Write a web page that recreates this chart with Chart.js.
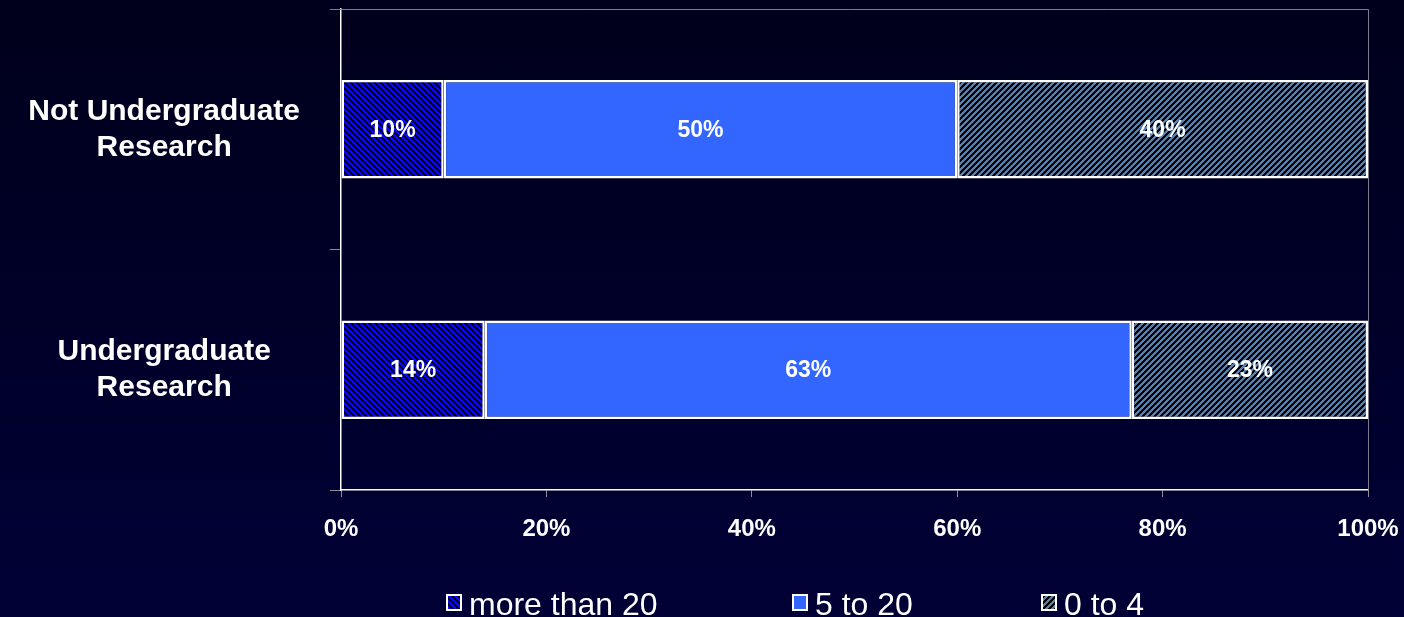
<!DOCTYPE html>
<html>
<head>
<meta charset="utf-8">
<script src="https://cdn.jsdelivr.net/npm/chart.js@4.4.1/dist/chart.umd.min.js"></script>
<style>
  html, body { margin: 0; padding: 0; }
  body {
    width: 1404px; height: 617px; overflow: hidden; position: relative;
    background: linear-gradient(to bottom, #00001c, #000036);
    font-family: Arial, "Liberation Sans", sans-serif;
  }
  #chart { position: absolute; left: 0; top: 0; }
  .legend-item {
    position: absolute; top: 589px; height: 31px; line-height: 31px;
    display: flex; align-items: flex-start; color: #fff; font-size: 32px; white-space: nowrap;
  }
  .legend-item canvas { width: 16px; height: 17px; flex: none; margin-right: 7px; margin-top: 5px; }
</style>
</head>
<body>
<canvas id="chart" width="1404" height="617"></canvas>
<div id="legend"></div>
<script>
// data
const categories = [['Not Undergraduate', 'Research'], ['Undergraduate', 'Research']];
const seriesNames = ['more than 20', '5 to 20', '0 to 4'];
const moreThan20 = [10, 14];
const fiveTo20 = [50, 63];
const zeroTo4 = [40, 23];
const xTicks = [0, 20, 40, 60, 80, 100];

const FONT = 'Arial, "Liberation Sans", sans-serif';

// striped fill tiles (6x6 px), "down" = \ stripes, "up" = / stripes
function stripeTile(color, dir) {
  const c = document.createElement('canvas');
  c.width = 6; c.height = 6;
  const g = c.getContext('2d');
  g.fillStyle = '#000';
  g.fillRect(0, 0, 6, 6);
  g.fillStyle = color;
  for (let y = 0; y < 6; y++) {
    for (let x = 0; x < 6; x++) {
      const k = dir === 'down' ? (x - y + 12) % 6 : (x + y) % 6;
      if (k < 3) g.fillRect(x, y, 1, 1);
    }
  }
  return c;
}

// fill for each series, usable on any canvas context
function seriesFill(g, i) {
  if (i === 0) return g.createPattern(stripeTile('#0a0ae8', 'down'), 'repeat');
  if (i === 2) return g.createPattern(stripeTile('#5a7fa8', 'up'), 'repeat');
  return '#3366ff';
}

const ctx = document.getElementById('chart').getContext('2d');

// grey frame on top and right of the plot area
const frame = {
  id: 'frame',
  beforeDatasetsDraw(chart) {
    const { ctx, chartArea: a } = chart;
    ctx.save();
    ctx.strokeStyle = '#7c7c8c';
    ctx.lineWidth = 1;
    ctx.beginPath();
    ctx.moveTo(a.left - 11, a.top + 0.5);
    ctx.lineTo(a.right + 0.5, a.top + 0.5);
    ctx.lineTo(a.right + 0.5, a.bottom);
    ctx.stroke();
    ctx.restore();
  }
};

// percentage labels in the middle of each segment
const valueLabels = {
  id: 'valueLabels',
  afterDatasetsDraw(chart) {
    const ctx = chart.ctx;
    ctx.save();
    ctx.fillStyle = '#fff';
    ctx.font = 'bold 23px ' + FONT;
    ctx.textAlign = 'center';
    ctx.textBaseline = 'middle';
    chart.data.datasets.forEach((ds, i) => {
      chart.getDatasetMeta(i).data.forEach((bar, j) => {
        const p = bar.getCenterPoint();
        ctx.fillText(ds.data[j] + '%', p.x, p.y + 1);
      });
    });
    ctx.restore();
  }
};

function noPad(s) {
  s.paddingTop = 0; s.paddingBottom = 0; s.paddingLeft = 0; s.paddingRight = 0;
}

const seriesData = [moreThan20, fiveTo20, zeroTo4];

const chart = new Chart(ctx, {
  type: 'bar',
  data: {
    labels: categories,
    datasets: seriesNames.map((name, i) => ({
      label: name,
      data: seriesData[i],
      backgroundColor: seriesFill(ctx, i),
      borderColor: '#fff',
      borderWidth: 2.5,
      borderSkipped: false,
      barPercentage: 0.41,
      categoryPercentage: 1
    }))
  },
  options: {
    indexAxis: 'y',
    responsive: false,
    animation: false,
    devicePixelRatio: 1,
    layout: { padding: { top: 9, right: 36, bottom: 73, left: 0 } },
    plugins: { legend: { display: false }, tooltip: { enabled: false } },
    scales: {
      x: {
        stacked: true,
        min: 0,
        max: 100,
        afterBuildTicks: (s) => { s.ticks = xTicks.map(v => ({ value: v })); },
        ticks: {
          color: '#fff',
          font: { family: FONT, size: 24, weight: 'bold' },
          padding: 18,
          maxRotation: 0,
          callback: (v) => v + '%'
        },
        grid: { drawOnChartArea: false, color: '#8c8c9c', tickLength: 7 },
        border: { color: '#fff', width: 1.5 },
        afterFit: (s) => { s.height = 54; noPad(s); }
      },
      y: {
        stacked: true,
        ticks: {
          color: '#fff',
          font: { family: FONT, size: 30, weight: 'bold', lineHeight: 1.2 },
          padding: 30,
          crossAlign: 'center'
        },
        grid: { drawOnChartArea: false, color: '#8c8c9c', tickLength: 11 },
        border: { color: '#fff', width: 1.5 },
        afterFit: (s) => { s.width = 341; noPad(s); }
      }
    }
  },
  plugins: [frame, valueLabels]
});

// legend below the chart
const legendLefts = [446, 792, 1041];
const legendDiv = document.getElementById('legend');
seriesNames.forEach((name, i) => {
  const item = document.createElement('div');
  item.className = 'legend-item';
  item.style.left = legendLefts[i] + 'px';

  const sw = document.createElement('canvas');
  sw.width = 16; sw.height = 17;
  const g = sw.getContext('2d');
  g.fillStyle = seriesFill(g, i);
  g.fillRect(0, 0, 16, 17);
  g.strokeStyle = '#fff';
  g.lineWidth = 2;
  g.strokeRect(1, 1, 14, 15);

  const txt = document.createElement('span');
  txt.textContent = name;
  item.appendChild(sw);
  item.appendChild(txt);
  legendDiv.appendChild(item);
});
</script>
</body>
</html>
